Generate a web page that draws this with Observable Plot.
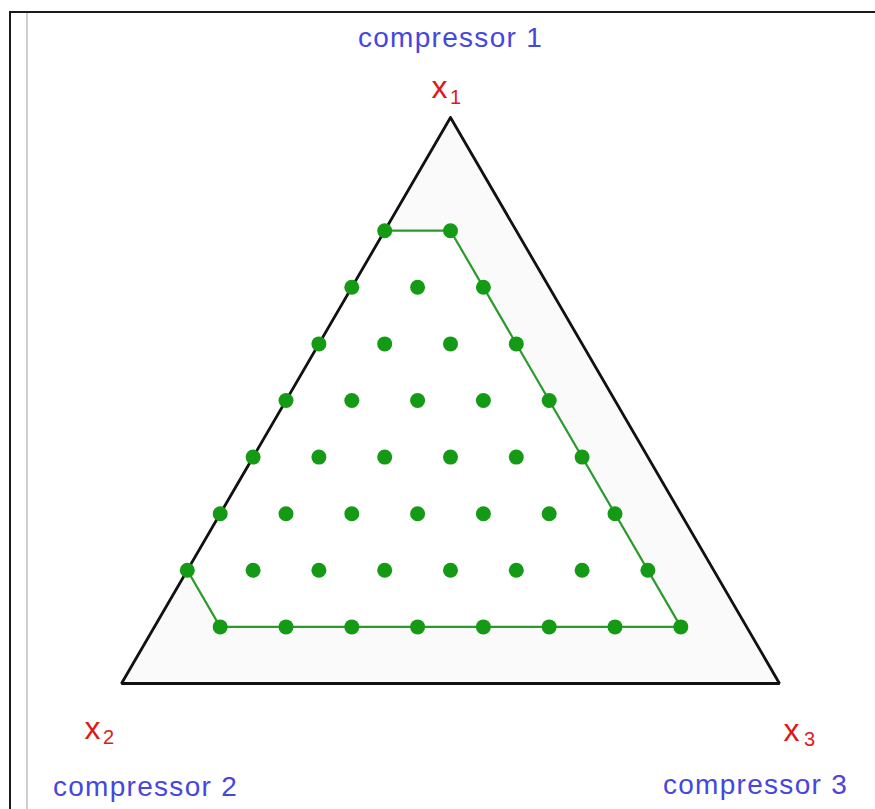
<!DOCTYPE html>
<html>
<head>
<meta charset="utf-8">
<script src="https://cdn.jsdelivr.net/npm/d3@7"></script>
<script src="https://cdn.jsdelivr.net/npm/@observablehq/plot@0.6"></script>
<style>
  html, body { margin: 0; padding: 0; background: #fff; }
  #wrap { position: relative; width: 875px; height: 809px; overflow: hidden; }
  #frameDark { position: absolute; left: 9px; top: 11px; right: -5px; bottom: -5px;
               border-left: 2px solid #1a1a1a; border-top: 2px solid #1a1a1a; }
  #frameGray { position: absolute; left: 26px; top: 13px; width: 2px; bottom: 0; background: #cfcfcf; }
  #chart { position: absolute; left: 0; top: 0; }
  .comp text { letter-spacing: 1.3px; }
</style>
</head>
<body>
<div id="wrap">
  <div id="chart"></div>
  <div id="frameDark"></div>
  <div id="frameGray"></div>
</div>
<script>
// Ternary components in tenths (x1 = compressor 1, x2 = compressor 2, x3 = 10 - x1 - x2)
const designX1 = [8,8, 7,7,7, 6,6,6,6, 5,5,5,5,5, 4,4,4,4,4,4, 3,3,3,3,3,3,3, 2,2,2,2,2,2,2,2, 1,1,1,1,1,1,1,1];
const designX2 = [2,1, 3,2,1, 4,3,2,1, 5,4,3,2,1, 6,5,4,3,2,1, 7,6,5,4,3,2,1, 8,7,6,5,4,3,2,1, 8,7,6,5,4,3,2,1];

// Triangle vertices (x1, x2) in tenths
const vertexX1 = [10, 0, 0];
const vertexX2 = [0, 10, 0];

// Feasible region (hexagon) vertices, x1 and x2 in tenths
const regionX1 = [8, 8, 1, 1, 2];
const regionX2 = [2, 1, 1, 8, 8];

// Labels
const vertexNames = ["compressor 1", "compressor 2", "compressor 3"];
const vertexSymbols = ["x", "x", "x"];
const vertexSubs = ["1", "2", "3"];

const toXY = (x1, x2) => {
  const a = x1 / 10, b = x2 / 10, c = 1 - a - b;
  return { X: c + a / 2, Y: a };
};

const points = designX1.map((a, i) => toXY(a, designX2[i]));
const tri = vertexX1.map((a, i) => toXY(a, vertexX2[i]));
const triClosed = [...tri, tri[0]];
const region = regionX1.map((a, i) => toXY(a, regionX2[i]));
const regionClosed = [...region, region[0]];
const boundary = [region[4], region[3], region[2], region[1], region[0]];

const vTop = [tri[0]], vLeft = [tri[1]], vRight = [tri[2]];

const blue = "#4646e0", red = "#e01818", green = "#149a14", greenLine = "#2a9a2a";
const font = "'Liberation Sans', Arial, sans-serif";

const chart = Plot.plot({
  width: 875,
  height: 809,
  margin: 0,
  style: { background: "transparent", fontFamily: font },
  x: { domain: [0, 1], range: [121, 779], axis: null },
  y: { domain: [0, 1], range: [683, 117], axis: null },
  marks: [
    Plot.line(triClosed, { x: "X", y: "Y", fill: "#fbfafa", stroke: "none" }),
    Plot.line(regionClosed, { x: "X", y: "Y", fill: "#ffffff", stroke: "none" }),
    Plot.line(boundary, { x: "X", y: "Y", stroke: greenLine, strokeWidth: 2.2 }),
    Plot.line(triClosed, { x: "X", y: "Y", stroke: "#111", strokeWidth: 2.8, strokeLinejoin: "miter" }),
    Plot.dot(points, { x: "X", y: "Y", r: 7.5, fill: green, stroke: "none" }),

    // compressor 1 (top)
    Plot.text(vTop, { x: "X", y: "Y", text: () => vertexNames[0], className: "comp", fill: blue, fontSize: 28, lineAnchor: "bottom", textAnchor: "middle", dy: -71 }),
    Plot.text(vTop, { x: "X", y: "Y", text: () => vertexSymbols[0], fill: red, fontSize: 32, lineAnchor: "bottom", textAnchor: "middle", dx: -11, dy: -20 }),
    Plot.text(vTop, { x: "X", y: "Y", text: () => vertexSubs[0], fill: red, fontSize: 20, lineAnchor: "bottom", textAnchor: "middle", dx: 5, dy: -14 }),

    // compressor 2 (bottom-left)
    Plot.text(vLeft, { x: "X", y: "Y", text: () => vertexNames[1], className: "comp", fill: blue, fontSize: 28, lineAnchor: "bottom", textAnchor: "middle", dx: 24, dy: 112 }),
    Plot.text(vLeft, { x: "X", y: "Y", text: () => vertexSymbols[1], fill: red, fontSize: 32, lineAnchor: "bottom", textAnchor: "middle", dx: -29, dy: 55 }),
    Plot.text(vLeft, { x: "X", y: "Y", text: () => vertexSubs[1], fill: red, fontSize: 20, lineAnchor: "bottom", textAnchor: "middle", dx: -13, dy: 60 }),

    // compressor 3 (bottom-right)
    Plot.text(vRight, { x: "X", y: "Y", text: () => vertexNames[2], className: "comp", fill: blue, fontSize: 28, lineAnchor: "bottom", textAnchor: "middle", dx: -24, dy: 110 }),
    Plot.text(vRight, { x: "X", y: "Y", text: () => vertexSymbols[2], fill: red, fontSize: 32, lineAnchor: "bottom", textAnchor: "middle", dx: 12, dy: 57 }),
    Plot.text(vRight, { x: "X", y: "Y", text: () => vertexSubs[2], fill: red, fontSize: 20, lineAnchor: "bottom", textAnchor: "middle", dx: 30, dy: 62 })
  ]
});

document.getElementById("chart").appendChild(chart);
</script>
</body>
</html>
